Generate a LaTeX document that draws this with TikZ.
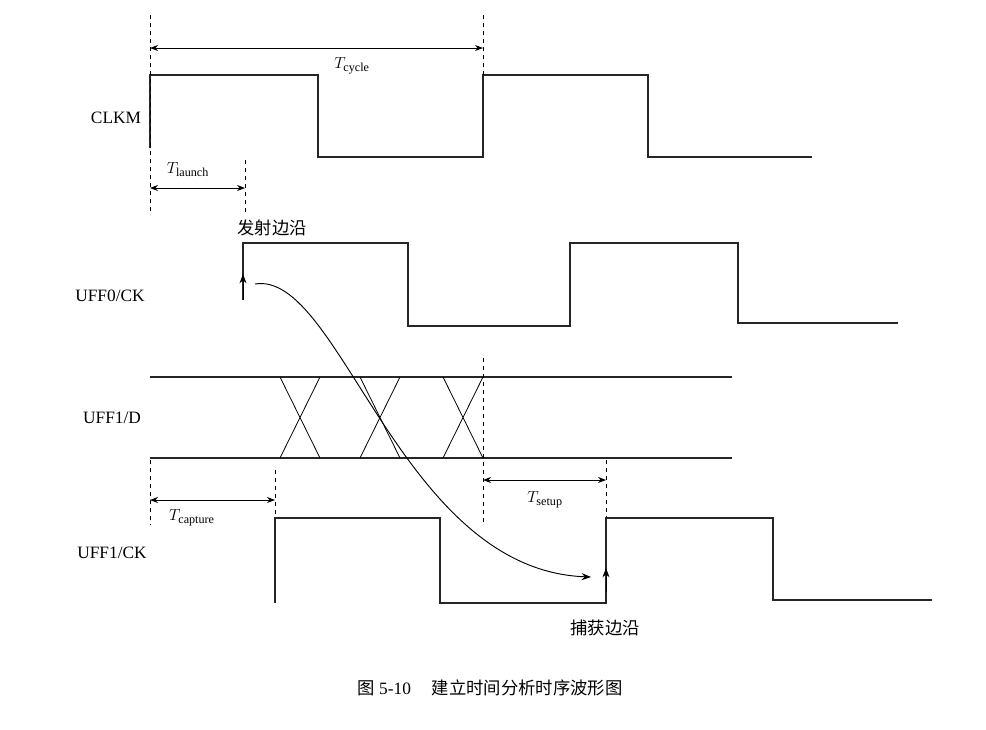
\documentclass[tikz,border=0pt]{standalone}
\usepackage{fontspec}
\setmainfont{Liberation Serif}
\newfontfamily\cjk{Noto Sans CJK SC}
\usetikzlibrary{arrows.meta}
\begin{document}
\begin{tikzpicture}[x=0.75pt,y=-0.75pt,
  wave/.style={line width=0.9pt,black!85},
  dim/.style={line width=0.6pt,{Stealth[length=6pt]}-{Stealth[length=6pt]}},
  guide/.style={dashed,line width=0.6pt},
  lab/.style={font=\fontsize{13}{15}\selectfont},
  cn/.style={font=\cjk\fontsize{13}{15}\selectfont}]
\useasboundingbox (0,0) rectangle (986,729);
% CLKM
\draw[wave] (150,148) -- (150,75) -- (318,75) -- (318,157) -- (483,157) -- (483,75) -- (648,75) -- (648,157) -- (812,157);
\coordinate (c0t) at (150,15); \coordinate (c0b) at (150,215);
\coordinate (c1t) at (483,15); \coordinate (c1b) at (483,75);
\draw[guide] (c0t) -- (c0b);
\draw[guide] (c1t) -- (c1b);
\coordinate (cy0) at (150,48); \coordinate (cy1) at (483,48);
\draw[dim] (cy0) -- (cy1);
\node[lab] (tcyc) at (352,66) {$T_{\mathrm{cycle}}$};
\coordinate (l0) at (150,188); \coordinate (l1) at (245,188);
\draw[dim] (l0) -- (l1);
\draw[guide] (245,160) -- (245,215);
\node[lab] (tl) at (188,170) {$T_{\mathrm{launch}}$};
\node[cn] (fs) at (272,228) {发射边沿};
\node[lab] (n1) at (116,118) {CLKM};
% UFF0/CK
\draw[wave] (243,300) -- (243,243) -- (408,243) -- (408,326) -- (570,326) -- (570,243) -- (738,243) -- (738,323) -- (898,323);
\draw[line width=0.6pt,-{Stealth[length=7pt]}] (243,300) -- (243,274);
\node[lab] (n2) at (110,296) {UFF0/CK};
% UFF1/D
\draw[wave] (150,377) -- (732,377);
\draw[wave] (150,458) -- (732,458);
\foreach \x in {280,360,443}{
  \draw[line width=0.6pt] (\x,377) -- (\x+40,458) (\x,458) -- (\x+40,377);}
\draw[guide] (483,358) -- (483,522);
\node[lab] (n3) at (112,418) {UFF1/D};
% dims
\draw[dim] (150,500) -- (275,500);
\draw[guide] (150,460) -- (150,525);
\draw[guide] (275,470) -- (275,600);
\node[lab] (tc) at (192,518) {$T_{\mathrm{capture}}$};
\draw[dim] (483,480) -- (606,480);
\draw[guide] (606,460) -- (606,600);
\node[lab] (ts) at (545,500) {$T_{\mathrm{setup}}$};
% UFF1/CK
\draw[wave] (275,603) -- (275,518) -- (440,518) -- (440,603) -- (606,603) -- (606,518) -- (773,518) -- (773,600) -- (932,600);
\draw[line width=0.6pt,-{Stealth[length=7pt]}] (606,592) -- (606,568);
\node[lab] (n4) at (112,553) {UFF1/CK};
% path curve
\coordinate (ps) at (255,284); \coordinate (pe) at (591,577);
\draw[line width=0.7pt,-{Stealth[length=7pt]}] (ps) .. controls (340,270) and (400,570) .. (pe);
\node[cn] (bh) at (605,628) {捕获边沿};
\node[font=\fontsize{13}{15}\selectfont] (cap) at (490,688) {{\cjk 图} 5-10\hspace{1.2em}{\cjk 建立时间分析时序波形图}};
\end{tikzpicture}
\end{document}
